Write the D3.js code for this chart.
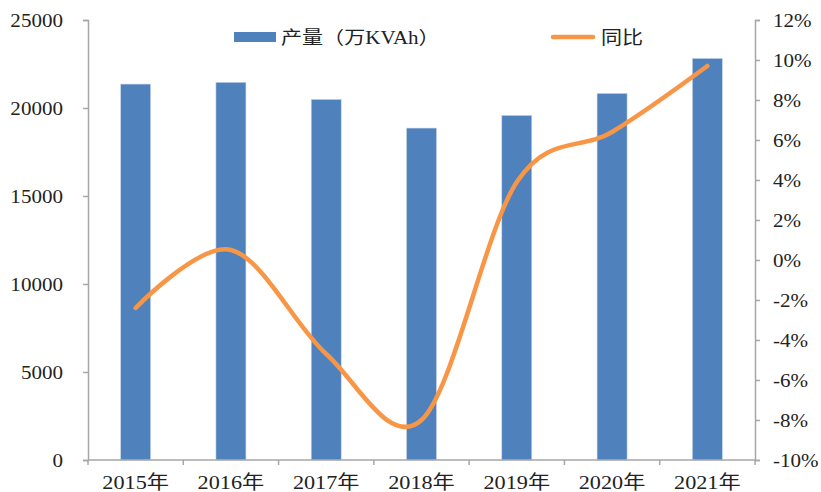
<!DOCTYPE html>
<html>
<head>
<meta charset="utf-8">
<script src="https://cdn.jsdelivr.net/npm/d3@7"></script>
<style>
  body { margin: 0; background: #fff; }
</style>
</head>
<body>
<div id="chart"></div>
<script>
// output (万KVAh) and yoy growth
const years = ["2015年", "2016年", "2017年", "2018年", "2019年", "2020年", "2021年"]
const output = [21360, 21460, 20490, 18860, 19580, 20830, 22820]
const yoy = [-2.4, 0.5, -4.7, -8.0, 3.9, 6.4, 9.7]
const leftTicks = [0, 5000, 10000, 15000, 20000, 25000]
const rightTicks = [-10, -8, -6, -4, -2, 0, 2, 4, 6, 8, 10, 12]

const width = 821, height = 492
const margin = { top: 20, right: 66, bottom: 32, left: 88 }
const fontFam = "'Liberation Serif', 'Noto Sans CJK SC', serif"
const sx = 1.17   // the picture's text is a bit wide, stretch it

const svg = d3.select("#chart").append("svg")
    .attr("width", width)
    .attr("height", height)
    .attr("font-family", fontFam)

const x = d3.scaleBand()
    .domain(years)
    .range([margin.left, width - margin.right])
    .paddingInner(0.685)
    .paddingOuter(0.3425)

const y = d3.scaleLinear()
    .domain([0, 25000])
    .range([height - margin.bottom, margin.top])

const y2 = d3.scaleLinear()
    .domain([-10, 12])
    .range([height - margin.bottom, margin.top])

const axisColor = "#a6a6a6"

// put a text at (px,py) and stretch it sideways
function wide(sel, px, py) {
    sel.attr("x", 0).attr("y", 0)
        .style("font-family", fontFam)
        .attr("transform", "translate(" + px + "," + py + ") scale(" + sx + ",1)")
}

// bars
svg.selectAll(".bar")
    .data(output)
    .enter()
    .append("rect")
    .attr("class", "bar")
    .attr("x", (d, i) => x(years[i]))
    .attr("y", d => y(d))
    .attr("width", x.bandwidth())
    .attr("height", d => y(0) - y(d))
    .attr("fill", "#4f81bd")
    .attr("stroke", "#c9d8ec")
    .attr("stroke-width", 0.6)

// left axis
const gl = svg.append("g")
    .attr("transform", "translate(" + margin.left + ",0)")
    .call(d3.axisLeft(y).tickValues(leftTicks).tickSize(5).tickFormat(d3.format("d")))
gl.attr("font-family", fontFam)
gl.select(".domain").attr("stroke", axisColor).attr("stroke-width", 1.5)
gl.selectAll(".tick line").attr("stroke", axisColor).attr("stroke-width", 1.5)
gl.selectAll(".tick text")
    .attr("font-size", 18).attr("fill", "#222").attr("dy", "0.34em")
    .call(wide, -25, 0)

// right axis
const gr = svg.append("g")
    .attr("transform", "translate(" + (width - margin.right) + ",0)")
    .call(d3.axisRight(y2).tickValues(rightTicks).tickSize(5).tickFormat(d => d + "%"))
gr.attr("font-family", fontFam)
gr.select(".domain").attr("stroke", axisColor).attr("stroke-width", 1.5)
gr.selectAll(".tick line").attr("stroke", axisColor).attr("stroke-width", 1.5)
gr.selectAll(".tick text")
    .attr("font-size", 18).attr("fill", "#222").attr("dy", "0.34em")
    .call(wide, 18, 0)

// bottom axis line + ticks between categories
const step = x.step()
svg.append("line")
    .attr("x1", margin.left).attr("x2", width - margin.right)
    .attr("y1", y(0)).attr("y2", y(0))
    .attr("stroke", axisColor).attr("stroke-width", 1.5)

svg.selectAll(".xtick")
    .data(d3.range(years.length + 1))
    .enter()
    .append("line")
    .attr("x1", i => margin.left + i * step)
    .attr("x2", i => margin.left + i * step)
    .attr("y1", y(0))
    .attr("y2", y(0) + 5)
    .attr("stroke", axisColor).attr("stroke-width", 1.5)

svg.selectAll(".xlabel")
    .data(years)
    .enter()
    .append("text")
    .attr("text-anchor", "middle")
    .attr("font-size", 19)
    .attr("fill", "#222")
    .text(d => d)
    .each(function (d) {
        d3.select(this).call(wide, x(d) + x.bandwidth() / 2, height - 3)
    })

// yoy line, smoothed like excel
const line = d3.line()
    .x((d, i) => x(years[i]) + x.bandwidth() / 2)
    .y(d => y2(d))
    .curve(d3.curveCatmullRom.alpha(0))

svg.append("path")
    .datum(yoy)
    .attr("d", line)
    .attr("fill", "none")
    .attr("stroke", "#f79646")
    .attr("stroke-width", 4.5)
    .attr("stroke-linecap", "round")

// legend
const legend = svg.append("g")
legend.append("rect")
    .attr("x", 234).attr("y", 32)
    .attr("width", 42).attr("height", 10)
    .attr("fill", "#4f81bd")
legend.append("text")
    .attr("font-size", 18)
    .attr("fill", "#222")
    .text("产量（万KVAh）")
    .call(wide, 281, 44)

legend.append("line")
    .attr("x1", 553).attr("x2", 593)
    .attr("y1", 37).attr("y2", 37)
    .attr("stroke", "#f79646").attr("stroke-width", 4.5)
    .attr("stroke-linecap", "round")
legend.append("text")
    .attr("font-size", 18)
    .attr("fill", "#222")
    .text("同比")
    .call(wide, 601, 44)
</script>
</body>
</html>
